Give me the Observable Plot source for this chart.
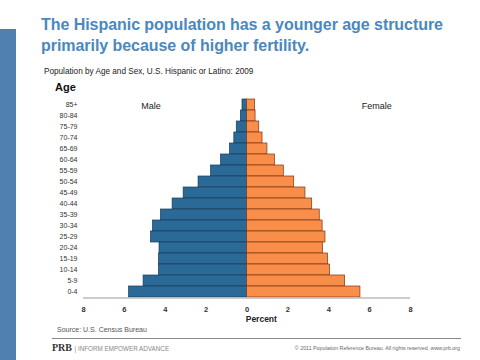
<!DOCTYPE html>
<html>
<head>
<meta charset="utf-8">
<script src="https://cdn.jsdelivr.net/npm/d3@7"></script>
<script src="https://cdn.jsdelivr.net/npm/@observablehq/plot@0.6"></script>
<style>
  html, body { margin: 0; padding: 0; background: #fff; }
  body { width: 480px; height: 360px; position: relative; overflow: hidden; font-family: "Liberation Sans", Arial, sans-serif; }
  .abs { position: absolute; white-space: nowrap; }
  #strip { left: 0; top: 29px; width: 16px; height: 331px; background: #4f80b0; }
  #title { left: 41px; top: 14px; font-size: 16px; font-weight: bold; color: #4a88bd; line-height: 21px; letter-spacing: -0.05px; }
  #subtitle { left: 44px; top: 67px; font-size: 8.2px; color: #222; }
  #agehead { left: 55px; top: 81px; font-size: 11px; font-weight: bold; color: #111; }
  #chart { left: 40px; top: 80px; }
  #source { left: 57px; top: 326px; font-size: 7px; color: #555; }
  #rule { left: 52px; top: 338px; width: 409px; height: 0; border-top: 1.5px solid #8a8a8a; }
  #prb { left: 52px; top: 342px; font-family: "Liberation Serif", serif; font-weight: bold; font-size: 10px; color: #333; }
  #prb span { font-family: "Liberation Sans", sans-serif; font-weight: normal; font-size: 6.3px; color: #888; letter-spacing: 0px; }
  #copy { right: 20px; top: 345px; font-size: 5.3px; color: #666; }
</style>
</head>
<body>
<div class="abs" id="strip"></div>
<div class="abs" id="title">The Hispanic population has a younger age structure<br>primarily because of higher fertility.</div>
<div class="abs" id="subtitle">Population by Age and Sex, U.S. Hispanic or Latino: 2009</div>
<div class="abs" id="agehead">Age</div>
<div class="abs" id="chart"></div>
<div class="abs" id="source">Source: U.S. Census Bureau</div>
<div class="abs" id="rule"></div>
<div class="abs" id="prb">PRB <span>| INFORM EMPOWER ADVANCE</span></div>
<div class="abs" id="copy">© 2011 Population Reference Bureau. All rights reserved. www.prb.org</div>
<script>
const ageGroups = ["85+","80-84","75-79","70-74","65-69","60-64","55-59","50-54","45-49","40-44","35-39","30-34","25-29","20-24","15-19","10-14","5-9","0-4"];
const malePct   = [0.22, 0.3, 0.5, 0.62, 0.83, 1.27, 1.76, 2.37, 3.1, 3.64, 4.21, 4.6, 4.7, 4.28, 4.31, 4.31, 5.06, 5.77];
const femalePct = [0.4, 0.42, 0.6, 0.76, 1.0, 1.37, 1.8, 2.31, 2.86, 3.19, 3.56, 3.7, 3.84, 3.72, 3.97, 4.06, 4.8, 5.55];
const xTicks = [-8, -6, -4, -2, 0, 2, 4, 6, 8];
const sexLabels = ["Male", "Female"];

const rows = [];
ageGroups.forEach((a, i) => {
  rows.push({age: a, sex: "Male", value: -malePct[i]});
  rows.push({age: a, sex: "Female", value: femalePct[i]});
});

const chart = Plot.plot({
  width: 400,
  height: 250,
  marginLeft: 43,
  marginRight: 30,
  marginTop: 16,
  marginBottom: 31,
  style: {fontFamily: "Liberation Sans, Arial, sans-serif", background: "transparent"},
  x: {domain: [-8, 8], label: null},
  y: {domain: ageGroups, label: null, padding: 0},
  marks: [
    Plot.barX(rows, {
      x: "value", y: "age",
      fill: d => d.sex === "Male" ? "#2b6a97" : "#f98e4b",
      stroke: d => d.sex === "Male" ? "#173d5a" : "#7a3510",
      strokeWidth: 0.7
    }),
    Plot.ruleY([ageGroups[ageGroups.length - 1]], {x1: -8, x2: 8, dy: 5.9, stroke: "#bbb", strokeWidth: 1.5}),
    Plot.axisX({ticks: xTicks, tickFormat: d => Math.abs(d), tickSize: 0, tickPadding: 7, fontSize: 7.5, fontWeight: "bold", fill: "#333", label: null}),
    Plot.axisY({tickSize: 0, tickPadding: 6, fontSize: 7, fill: "#333", label: null}),
    Plot.text(["Percent"], {x: 0.7, frameAnchor: "bottom", dy: 22, text: d => d, fontSize: 8.5, fontWeight: "bold", fill: "#222"}),
    Plot.text(sexLabels, {x: [-4.7, 6.35], y: ["85+", "85+"], dy: 1, text: d => d, fontSize: 9, fill: "#222"})
  ]
});
document.getElementById("chart").appendChild(chart);
</script>
</body>
</html>
